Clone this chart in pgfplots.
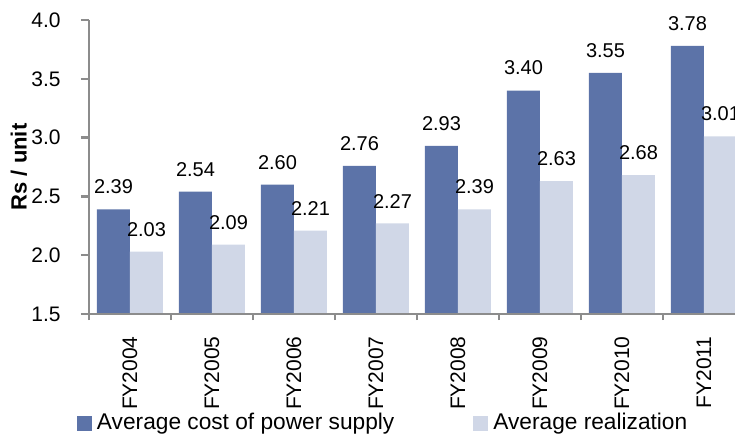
\documentclass[border=0pt]{standalone}
\usepackage{fontspec}
\setmainfont{Liberation Sans}
\usepackage{pgfplots}
\pgfplotsset{compat=1.18}
\definecolor{darkbar}{RGB}{92,115,168}
\definecolor{lightbar}{RGB}{208,215,231}
\definecolor{axgray}{RGB}{140,140,140}
\begin{document}
\begin{tikzpicture}
\begin{axis}[
  name=ax,
  scale only axis,
  width=328pt, height=147pt,
  xmin=-0.5, xmax=7.5, ymin=1.5, ymax=4.0,
  ybar=0pt, bar width=16.5pt,
  legend image code/.code={\fill[#1] (0pt,-3.75pt) rectangle (7.5pt,3.75pt);},
  axis on top,
  axis x line*=bottom, axis y line*=left,
  axis line style={axgray, line width=1.2pt},
  tick align=outside,
  /pgf/number format/assume math mode=true,
  ytick={1.5,2.0,2.5,3.0,3.5,4.0},
  major tick length=4pt,
  major y tick style={axgray, line width=1.2pt},
  xtick={0,...,7},
  xticklabels={FY2004,FY2005,FY2006,FY2007,FY2008,FY2009,FY2010,FY2011},
  major x tick style={draw=none},
  minor xtick={-0.5,0.5,...,7.5},
  minor tick length=3pt,
  minor x tick style={axgray, line width=1.2pt},
  yticklabel style={anchor=east, inner sep=0pt, font=\fontsize{10.5}{12}\selectfont,
     /pgf/number format/.cd, fixed, fixed zerofill, precision=1},
  yticklabel shift=10pt,
  xticklabel style={rotate=90, anchor=east, inner sep=0pt, font=\fontsize{10.5}{12}\selectfont},
  xticklabel shift=7pt,
  ylabel={Rs / unit},
  ylabel style={at={(axis description cs:-0.107,0.5)}, anchor=center, font=\fontsize{11}{13}\selectfont\bfseries},
  nodes near coords,
  every node near coord/.append style={font=\fontsize{10}{12}\selectfont, inner sep=0pt, yshift=7.5pt, anchor=south,
     /pgf/number format/.cd, fixed, fixed zerofill, precision=2},
  legend style={at={(axis description cs:-0.0183,-0.371)}, anchor=west, draw=none, fill=none,
     inner sep=0pt, outer sep=0pt, font=\fontsize{11.35}{13}\selectfont,
     nodes={inner sep=0pt, inner xsep=2.5pt},
     /tikz/every even column/.append style={column sep=37pt}},
  legend columns=2,
  legend cell align=left,
]
\addplot[fill=darkbar, draw=none] coordinates {(0,2.39)(1,2.54)(2,2.60)(3,2.76)(4,2.93)(5,3.40)(6,3.55)(7,3.78)};
\addplot[fill=lightbar, draw=none] coordinates {(0,2.03)(1,2.09)(2,2.21)(3,2.27)(4,2.39)(5,2.63)(6,2.68)(7,3.01)};
\legend{Average cost of power supply, Average realization}
\end{axis}
\pgfresetboundingbox
\path[use as bounding box] ([shift={(-44.5pt,-61pt)}]ax.south west) rectangle ([shift={(323pt,157pt)}]ax.south west);
\end{tikzpicture}
\end{document}
